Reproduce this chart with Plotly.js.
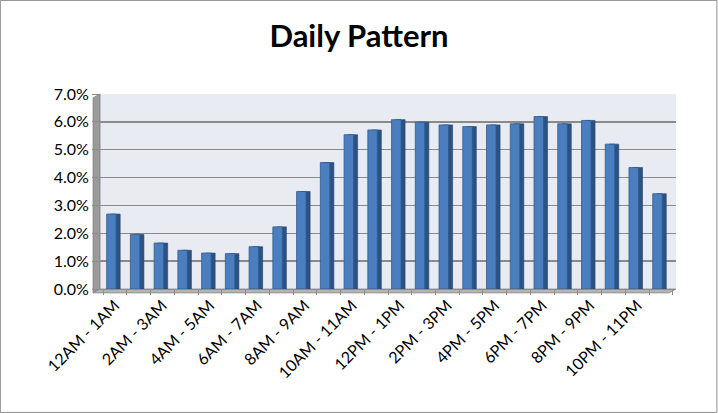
<!DOCTYPE html>
<html>
<head>
<meta charset="utf-8">
<script src="https://cdn.plot.ly/plotly-3.0.1.min.js"></script>
<style>html,body{margin:0;padding:0;background:#fff;}#chart{width:718px;height:413px;}</style>
</head>
<body>
<div id="chart"></div>
<script>
const categories = ["12AM - 1AM","1AM - 2AM","2AM - 3AM","3AM - 4AM","4AM - 5AM","5AM - 6AM",
  "6AM - 7AM","7AM - 8AM","8AM - 9AM","9AM - 10AM","10AM - 11AM","11AM - 12PM",
  "12PM - 1PM","1PM - 2PM","2PM - 3PM","3PM - 4PM","4PM - 5PM","5PM - 6PM",
  "6PM - 7PM","7PM - 8PM","8PM - 9PM","9PM - 10PM","10PM - 11PM","11PM - 12AM"];
const sharePct = [2.69,1.96,1.65,1.39,1.29,1.27,1.52,2.23,3.50,4.54,5.54,5.71,
  6.08,5.99,5.89,5.83,5.89,5.93,6.19,5.93,6.05,5.20,4.36,3.42];
const tickLabels = categories.map((c,i)=> i%2===0 ? c : '');

const side = {
  type:'bar', x:categories, y:sharePct, width:0.40, offset:-0.18,
  marker:{color:'#2b5283', line:{color:'#24466e', width:0.6}},
  hoverinfo:'skip', showlegend:false
};
const front = {
  type:'bar', x:categories, y:sharePct, width:0.40, offset:-0.35,
  marker:{color:'#4a7ebf', line:{color:'#2f5b8c', width:0.8}},
  showlegend:false
};

const layout = {
  width:718, height:413,
  margin:{l:100, r:42, t:94, b:124},
  paper_bgcolor:'#ffffff',
  plot_bgcolor:'#e9ebf3',
  font:{family:'Lato, "Liberation Sans", sans-serif', size:16, color:'#000'},
  title:{text:'<b>Daily Pattern</b>', x:0.5, xref:'container', xanchor:'center',
    y:0.913, yref:'container', yanchor:'middle',
    font:{family:'Lato, "Liberation Sans", sans-serif', size:31, color:'#000'}},
  barmode:'overlay',
  xaxis:{type:'category', tickmode:'array', tickvals:categories, ticktext:tickLabels,
    tickson:'boundaries',
    tickangle:-45, showgrid:false, zeroline:false, showline:true, linecolor:'#8c8c8c', linewidth:1,
    ticks:'outside', ticklen:5, tickcolor:'#8c8c8c', range:[-0.63,23.63],
    tickfont:{size:16}},
  yaxis:{range:[0,7], dtick:1, tick0:0, tickformat:'.1f', ticksuffix:'%',
    showgrid:true, gridcolor:'#8a8a8a', gridwidth:1.4, zeroline:false,
    showline:false, ticks:'outside', ticklen:7, tickcolor:'#8c8c8c',
    tickfont:{size:16}},
  shapes:[
    {type:'path', xref:'paper', yref:'paper', path:'M -0.012 -0.02 L 0 0 L 0 1 L -0.012 0.98 Z',
     fillcolor:'#9a9a9a', line:{color:'#7a7a7a', width:0.8}, layer:'below'},
    {type:'path', xref:'paper', yref:'paper', path:'M -0.012 -0.02 L 0 0 L 1 0 L 0.988 -0.02 Z',
     fillcolor:'#b4b4b4', line:{color:'#8c8c8c', width:0.8}, layer:'below'},
    {type:'rect', xref:'paper', yref:'paper', x0:-0.173, x1:1.071, y0:-0.633, y1:1.48,
     line:{color:'#8c8c8c', width:1}, fillcolor:'rgba(0,0,0,0)'}
  ]
};
Plotly.newPlot('chart',[side,front],layout,{displayModeBar:false,staticPlot:true});
</script>
</body>
</html>
